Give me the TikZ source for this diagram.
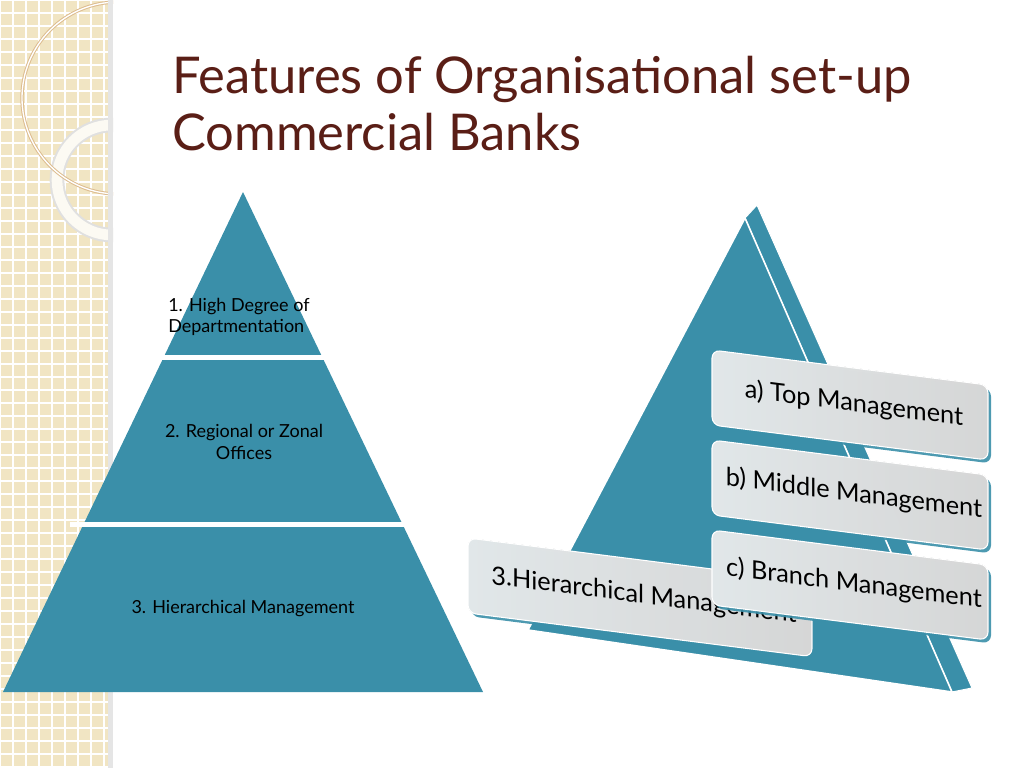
\documentclass[tikz,border=0pt]{standalone}
\usepackage{fontspec}
\setmainfont{Lato}
\usetikzlibrary{positioning}
\definecolor{teal}{HTML}{3A8FA9}
\definecolor{titlebrown}{HTML}{5A1E16}
\definecolor{beige}{HTML}{F1E5C3}
\definecolor{boxgray}{HTML}{E6E6E6}
\definecolor{boxlight}{HTML}{F2F8FA}
\tikzset{
  tiertext/.style={font=\fontsize{13.5}{16}\selectfont, align=left},
  boxtext/.style={font=\fontsize{19}{22}\selectfont, transform shape},
  mgmtbox/.style={rounded corners=6pt, left color=boxlight, right color=boxgray, draw=white, line width=0.8pt, fill opacity=0.93}
}
\newcommand{\mgmtpanel}[4]{% x, y, width, text
  \begin{scope}[shift={(#1,#2)}, cm={1,-0.127,0,1,(0,0)}]
    \fill[teal, rounded corners=6pt, fill opacity=0.9] (3,3) rectangle (#3+3,78);
    \fill[mgmtbox] (0,0) rectangle (#3,75);
    \node[boxtext] at (#3/2+4,36) {#4};
  \end{scope}}
\begin{document}
\begin{tikzpicture}[x=0.75pt,y=-0.75pt]
  \useasboundingbox (0,0) rectangle (1024,768);
  % side strip
  \fill[beige] (0,0) rectangle (113,768);
  \begin{scope}
    \clip (0,0) rectangle (113,768);
    \foreach \g in {0,13,...,780} {
      \draw[white, line width=0.8pt] (\g,0) -- (\g,768);
      \draw[white, line width=0.8pt] (0,\g) -- (113,\g);
    }
    \draw[black!12, line width=11pt] (112,180) circle (55);
    \draw[white!80!beige, line width=8pt] (112,180) circle (55);
    \draw[beige!60!brown, line width=2.5pt] (118,98) circle (96);
    \draw[white, line width=1pt] (118,98) circle (96);
    \fill[black!10] (108,0) rectangle (113,768);
  \end{scope}
  % title
  \node[anchor=base west, text=titlebrown, font=\fontsize{38}{46}\selectfont, inner sep=0pt] (title1) at (172,93) {Features of Organisational set-up};
  \node[anchor=base west, text=titlebrown, font=\fontsize{38}{46}\selectfont, inner sep=0pt] (title2) at (172,150) {Commercial Banks};
  % left pyramid
  \fill[teal] (243,192) -- (483,692) -- (3,692) -- cycle;
  \fill[white] (150,355) rectangle (340,360);
  \fill[white] (70,522) rectangle (420,527);
  \node[tiertext, anchor=north west, inner sep=0pt] (tierone) at (168,298) {1. High Degree of\\Departmentation};
  \node[tiertext, align=center] (tiertwo) at (244,442) {2. Regional or Zonal\\Offices};
  \node[tiertext] (tierthree) at (243,609) {3. Hierarchical Management};
  % right pyramid
  \fill[teal, draw=white, line width=0.8pt] (757,205) -- (972,688) -- (952,692) -- (745,218) -- cycle;
  \fill[teal, draw=white, line width=1.2pt] (745,218) -- (952,692) -- (528,630) -- cycle;
  \mgmtpanel{468}{538}{344}{3.Hierarchical Management}
  \mgmtpanel{712}{350}{276}{a) Top Management}
  \mgmtpanel{712}{440}{276}{b) Middle Management}
  \mgmtpanel{712}{530}{276}{c) Branch Management}
\end{tikzpicture}
\end{document}
